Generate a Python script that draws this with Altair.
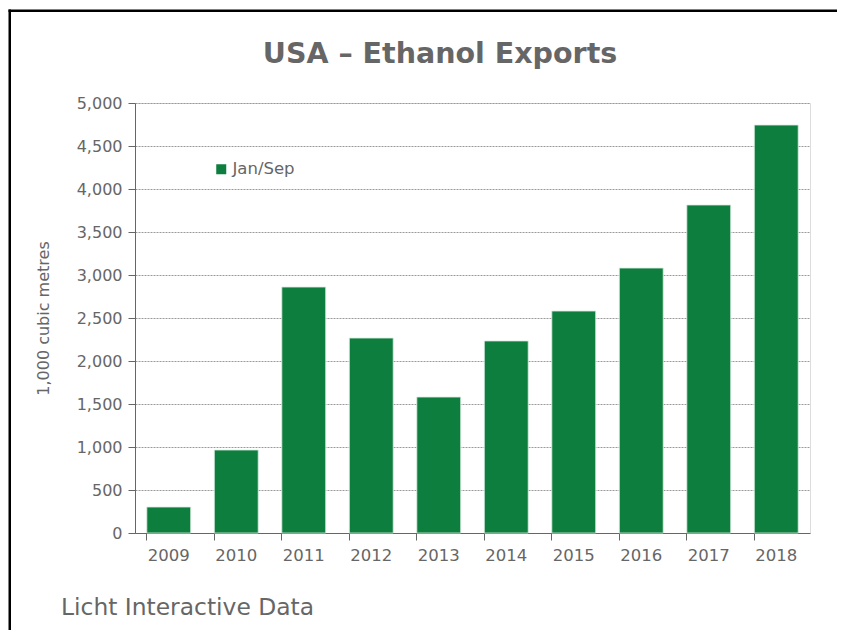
import altair as alt
import pandas as pd

years = ["2009", "2010", "2011", "2012", "2013", "2014", "2015", "2016", "2017", "2018"]
exports = [302, 965, 2860, 2267, 1581, 2233, 2581, 3081, 3814, 4744]
series = ["Jan/Sep"] * len(years)
y_ticks = [0, 500, 1000, 1500, 2000, 2500, 3000, 3500, 4000, 4500, 5000]

df = pd.DataFrame({"year": years, "value": exports, "series": series})

FONT = "DejaVu Sans"
GREEN = "#0e7e3e"
GRAY = "#666666"

bars = alt.Chart(df).mark_bar(
    color=GREEN, stroke="#d8ecdf", strokeWidth=0.8
).encode(
    x=alt.X("year:N", sort=years, title=None,
            scale=alt.Scale(paddingInner=0.35, paddingOuter=0.175),
            axis=alt.Axis(labelAngle=0, bandPosition=0, tickSize=7, labelPadding=7,
                          domainColor="#666666", tickColor="#666666",
                          labelColor=GRAY, labelFontSize=16.5, labelFont=FONT)),
    y=alt.Y("value:Q", title="1,000 cubic metres",
            scale=alt.Scale(domain=[0, 5000], nice=False),
            axis=alt.Axis(values=y_ticks, format=",d", tickSize=7, labelPadding=6,
                          domainColor="#666666", tickColor="#666666",
                          gridColor="#9a9a9a", gridDash=[2, 1], gridWidth=1,
                          labelColor=GRAY, labelFontSize=16, labelFont=FONT,
                          titleColor=GRAY, titleFontSize=16, titleFont=FONT,
                          titleFontWeight="normal", titlePadding=25)),
    fill=alt.Fill("series:N", scale=alt.Scale(range=[GREEN]),
                  legend=alt.Legend(title=None, orient="none", legendX=78, legendY=58,
                                    symbolType="square", symbolSize=100,
                                    symbolStrokeWidth=0,
                                    labelFont=FONT, labelFontSize=16.5, labelColor=GRAY,
                                    labelOffset=3)),
)

one = alt.Data(values=[{"a": 1}])

frame_top = alt.Chart(one).mark_rect(color="#000000", strokeWidth=0).encode(
    x=alt.value(-126.5), x2=alt.value(702), y=alt.value(-93.5), y2=alt.value(-91)
)
frame_left = alt.Chart(one).mark_rect(color="#000000", strokeWidth=0).encode(
    x=alt.value(-126.5), x2=alt.value(-124), y=alt.value(-93.5), y2=alt.value(527)
)

title = alt.Chart(one).mark_text(
    text="USA \u2013 Ethanol Exports", align="center", baseline="middle",
    font=FONT, fontSize=28.5, fontWeight="bold", color="#666666"
).encode(x=alt.value(305), y=alt.value(-49))

footer = alt.Chart(one).mark_text(
    text="Licht Interactive Data", align="left", baseline="middle",
    font=FONT, fontSize=23.4, color=GRAY
).encode(x=alt.value(-74), y=alt.value(505))

chart = alt.layer(bars, frame_top, frame_left, title, footer).properties(
    width=675, height=430,
    autosize=alt.AutoSizeParams(type="none"),
    padding={"left": 127, "top": 95, "right": 27, "bottom": 97},
).configure_view(stroke=None).configure(background="white")

chart.save("out.html", embed_options={"renderer": "svg", "actions": False})
